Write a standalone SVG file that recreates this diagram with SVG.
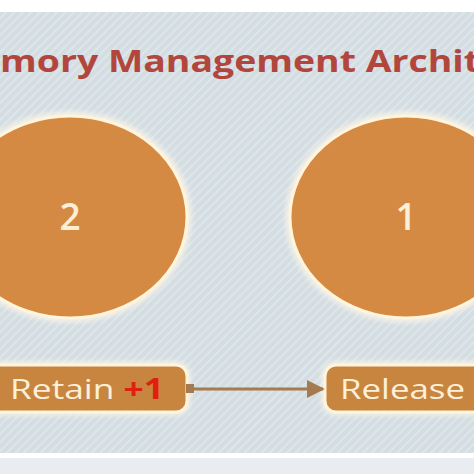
<svg xmlns="http://www.w3.org/2000/svg" width="474" height="474" viewBox="0 0 474 474">
  <defs>
    <pattern id="stripes" width="6" height="6" patternUnits="userSpaceOnUse" patternTransform="rotate(45)">
      <rect width="6" height="6" fill="#D3DDE2"/>
      <rect width="2" height="6" fill="#DEE6EA"/>
    </pattern>
    <filter id="glow" x="-20%" y="-20%" width="140%" height="140%">
      <feGaussianBlur stdDeviation="2.5"/>
    </filter>
    <marker id="arrow" viewBox="0 0 10 10" refX="9" refY="5" markerWidth="6" markerHeight="6" markerUnits="strokeWidth" orient="auto">
      <path d="M0,0 L10,5 L0,10 Z" fill="#A47A4E"/>
    </marker>
  </defs>
  <style>
    .circle { fill: #D58A44; stroke: #FFF4DC; stroke-width: 3; }
    .halo { fill: none; stroke: #F6F1E6; stroke-width: 7; filter: url(#glow); }
    .box { fill: #C88540; stroke: #FFF4DC; stroke-width: 3; }
    .num { font-family: "Open Sans", "Liberation Sans", sans-serif; font-size: 37px; font-weight: 600; fill: #FCEFD8; text-anchor: middle; }
    .label { font-family: "Open Sans", "Liberation Sans", sans-serif; font-size: 28px; fill: #FDF0D8; }
    .title { font-family: "Open Sans", "Liberation Sans", sans-serif; font-size: 30px; font-weight: bold; fill: #B2463C; }
  </style>

  <rect x="0" y="0" width="474" height="474" fill="#FFFFFF"/>
  <rect x="0" y="12" width="474" height="441" fill="url(#stripes)"/>
  <rect x="0" y="458" width="474" height="16" fill="#E9EDF1"/>

  <text class="title" x="0" y="72" textLength="480" lengthAdjust="spacingAndGlyphs">mory Management Archit</text>

  <g id="node-2">
    <ellipse class="halo" cx="70" cy="217" rx="118" ry="102"/>
    <ellipse class="circle" cx="70" cy="217" rx="117" ry="101"/>
    <text class="num" x="70" y="230">2</text>
  </g>

  <g id="node-1">
    <ellipse class="halo" cx="406" cy="217" rx="117" ry="102"/>
    <ellipse class="circle" cx="406" cy="217" rx="116" ry="101"/>
    <text class="num" x="406" y="230">1</text>
  </g>

  <g id="node-retain">
    <rect class="halo" x="-20" y="365" width="207" height="47" rx="11"/>
    <rect class="box" x="-20" y="365" width="207" height="47" rx="11"/>
    <text class="label" x="10" y="399" textLength="154" lengthAdjust="spacingAndGlyphs">Retain <tspan fill="#E0200F" font-weight="bold">+1</tspan></text>
  </g>

  <g id="node-release">
    <rect class="halo" x="325" y="365" width="180" height="47" rx="11"/>
    <rect class="box" x="325" y="365" width="180" height="47" rx="11"/>
    <text class="label" x="340" y="399" textLength="125" lengthAdjust="spacingAndGlyphs">Release</text>
  </g>

  <g id="connectors">
    <rect x="186" y="384" width="8" height="9" fill="#A47A4E"/>
    <line x1="190" y1="389" x2="323" y2="389" stroke="#A47A4E" stroke-width="3" marker-end="url(#arrow)"/>
  </g>
</svg>
